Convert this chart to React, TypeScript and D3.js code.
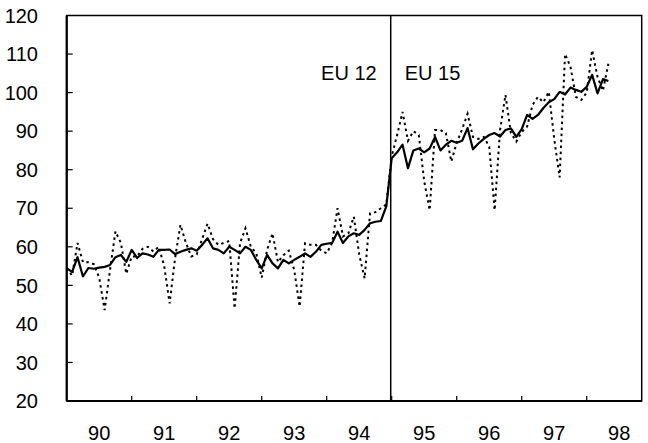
import React, { useEffect, useRef } from 'react'
import * as d3 from 'd3'

// monthly values, index 0 = Jan 1990, last = May 1998
// solid line (trend / seasonally adjusted)
const trend = [
  54.4, 53.5, 57.3, 52.3, 54.5, 54.3, 54.6, 54.8, 55.3, 57.3, 57.9, 56.1,
  59.2, 57.1, 58.3, 58.0, 57.4, 59.2, 59.2, 59.3, 58.1, 58.7, 59.2, 59.6,
  59.0, 60.5, 62.2, 59.6, 59.2, 58.3, 60.0, 59.2, 58.3, 60.0, 59.2, 56.6,
  54.4, 57.9, 55.7, 54.4, 56.6, 55.7, 56.6, 57.4, 58.3, 57.4, 58.7, 60.5,
  60.8, 61.0, 63.9, 61.0, 62.7, 63.5, 63.1, 64.4, 66.1, 66.5, 66.7, 70.5,
  83.0, 84.5, 86.5, 80.4, 85.0, 85.5, 84.5, 85.5, 88.5, 85.0, 86.5, 87.5,
  87.0, 87.5, 90.8, 85.3, 86.8, 88.0, 89.0, 89.5, 88.6, 90.3, 90.7, 88.5,
  90.5, 94.2, 93.2, 94.2, 96.0, 97.5, 98.3, 100.2, 99.5, 101.3, 100.7, 100.2,
  101.5, 104.6, 99.8, 103.5, 103.0
]

// dotted line (unadjusted)
const raw = [
  54.5, 52.5, 61.0, 56.0, 56.0, 55.5, 52.0, 43.6, 54.0, 64.0, 61.0, 53.0,
  57.5, 57.5, 59.5, 60.0, 58.8, 60.0, 55.0, 45.3, 57.0, 65.7, 61.0, 57.5,
  58.0, 62.0, 66.0, 62.0, 60.5, 61.0, 61.5, 44.0, 60.9, 64.8, 60.0, 58.3,
  52.0, 59.2, 63.5, 56.0, 57.8, 59.0, 54.0, 44.5, 60.9, 60.5, 60.5, 59.0,
  58.3, 61.0, 70.0, 62.7, 63.5, 67.8, 58.0, 51.8, 68.7, 69.0, 70.0, 71.0,
  83.5, 89.0, 95.0, 87.5, 90.0, 89.0, 77.0, 69.5, 90.3, 90.3, 89.5, 82.1,
  87.0, 90.5, 94.5, 88.5, 88.0, 88.5, 86.0, 69.5, 90.3, 99.4, 89.5, 87.3,
  89.8, 91.2, 96.8, 98.9, 97.5, 100.2, 88.0, 78.0, 110.0, 106.7, 98.9, 98.1,
  100.0, 111.0, 104.0, 100.5, 107.5
]

const yearLabels = ['90', '91', '92', '93', '94', '95', '96', '97', '98']
const yTicks = [20, 30, 40, 50, 60, 70, 80, 90, 100, 110, 120]
const breakMonth = 60 // Jan 1995
const breakLabels = ['EU 12', 'EU 15']

const font = '"Liberation Sans", Arial, sans-serif'

function App() {
  const ref = useRef<SVGSVGElement>(null)

  useEffect(() => {
    const left = 66.7, right = 641.7, top = 15.5, bottom = 401

    const svg = d3.select(ref.current)
    svg.selectAll('*').remove()

    const x = d3.scaleLinear().domain([0, 106.15]).range([left, right])
    const y = d3.scaleLinear().domain([20, 120]).range([bottom, top])

    // frame
    svg.append('rect')
      .attr('x', left).attr('y', top)
      .attr('width', right - left).attr('height', bottom - top)
      .attr('fill', 'none').attr('stroke', '#000').attr('stroke-width', 1.5)
    svg.append('line')
      .attr('x1', left).attr('x2', left).attr('y1', top).attr('y2', bottom)
      .attr('stroke', '#000').attr('stroke-width', 2.2)
    svg.append('line')
      .attr('x1', left).attr('x2', right).attr('y1', bottom).attr('y2', bottom)
      .attr('stroke', '#000').attr('stroke-width', 2.2)

    // y ticks (inward) and labels
    svg.append('g').selectAll('line').data(yTicks.slice(1, -1)).join('line')
      .attr('x1', left).attr('x2', left + 6)
      .attr('y1', d => y(d)).attr('y2', d => y(d))
      .attr('stroke', '#000').attr('stroke-width', 1.2)
    svg.append('g').selectAll('text').data(yTicks).join('text')
      .attr('x', 38).attr('y', d => y(d)).attr('dy', '0.36em')
      .attr('text-anchor', 'end')
      .attr('font-family', font).attr('font-size', 20)
      .text(d => d)

    // x ticks at year boundaries, labels centred in each year
    const yearStarts = yearLabels.slice(1).map((_, i) => (i + 1) * 12)
    svg.append('g').selectAll('line').data(yearStarts).join('line')
      .attr('x1', d => x(d)).attr('x2', d => x(d))
      .attr('y1', bottom).attr('y2', bottom - 5)
      .attr('stroke', '#000').attr('stroke-width', 1.2)
    svg.append('g').selectAll('text').data(yearLabels).join('text')
      .attr('x', (_, i) => x(i * 12 + 6)).attr('y', 440)
      .attr('text-anchor', 'middle')
      .attr('font-family', font).attr('font-size', 20)
      .text(d => d)

    // EU 12 / EU 15 break
    svg.append('line')
      .attr('x1', x(breakMonth) - 1).attr('x2', x(breakMonth) - 1)
      .attr('y1', top).attr('y2', bottom)
      .attr('stroke', '#000').attr('stroke-width', 1.5)
    svg.append('text')
      .attr('x', x(breakMonth) - 15).attr('y', 72.5).attr('dy', '0.36em')
      .attr('text-anchor', 'end')
      .attr('font-family', font).attr('font-size', 20)
      .text(breakLabels[0])
    svg.append('text')
      .attr('x', x(breakMonth) + 13).attr('y', 72.5).attr('dy', '0.36em')
      .attr('text-anchor', 'start')
      .attr('font-family', font).attr('font-size', 20)
      .text(breakLabels[1])

    const line = d3.line<number>()
      .x((_, i) => x(i))
      .y(d => y(d))

    svg.append('path')
      .datum(raw)
      .attr('fill', 'none')
      .attr('stroke', '#000')
      .attr('stroke-width', 2)
      .attr('stroke-dasharray', '2.5,3.5')
      .attr('d', line)

    svg.append('path')
      .datum(trend)
      .attr('fill', 'none')
      .attr('stroke', '#000')
      .attr('stroke-width', 2.2)
      .attr('stroke-linejoin', 'round')
      .attr('d', line)
  }, [])

  return (
    <svg
      ref={ref}
      width={648}
      height={443}
      style={{ position: 'absolute', left: 0, top: 0, background: '#fff' }}
    />
  )
}

export default App
